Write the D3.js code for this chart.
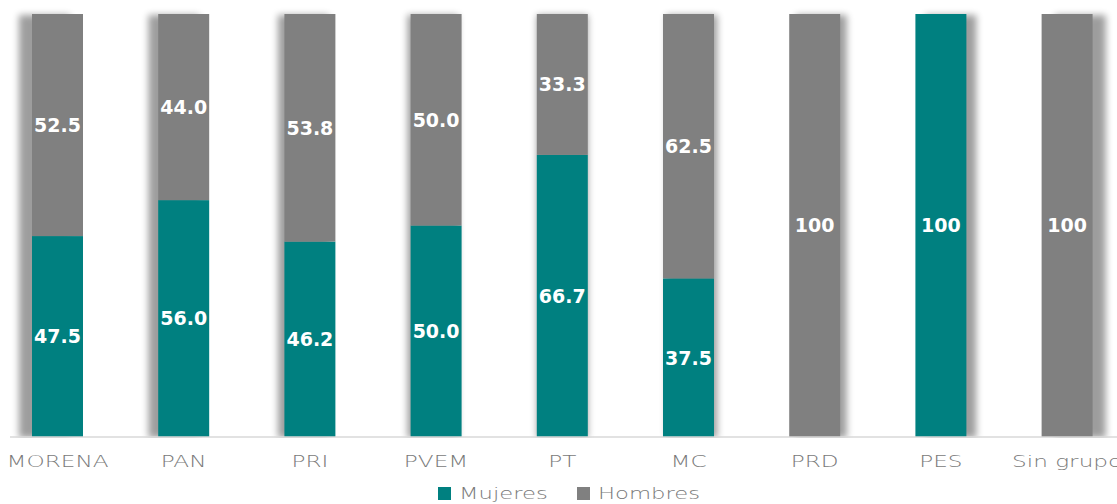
<!DOCTYPE html>
<html>
<head>
<meta charset="utf-8">
<script src="https://cdn.jsdelivr.net/npm/d3@7"></script>
<style>
  body { margin: 0; background: #fff; }
  svg { display: block; }
</style>
</head>
<body>
<script>
var categories = ["MORENA", "PAN", "PRI", "PVEM", "PT", "MC", "PRD", "PES", "Sin grupo"];
var mujeres = [47.5, 56.0, 46.2, 50.0, 66.7, 37.5, 0, 100, 0];
var hombres = [52.5, 44.0, 53.8, 50.0, 33.3, 62.5, 100, 0, 100];
var series = ["Mujeres", "Hombres"];
var colors = ["#008080", "#808080"];

var W = 1117, H = 504;
var svg = d3.select("body").append("svg")
  .attr("width", W)
  .attr("height", H);

var x = d3.scaleBand()
  .domain(categories)
  .range([-5.6, 1130.2])
  .paddingInner(0.596)
  .paddingOuter(0.298);

var y = d3.scaleLinear()
  .domain([0, 100])
  .range([437, 14]);

var mid = 560;
var defs = svg.append("defs");
defs.append("filter")
  .attr("id", "blur")
  .attr("x", "-100%").attr("y", "-10%")
  .attr("width", "300%").attr("height", "120%")
  .append("feGaussianBlur")
  .attr("stdDeviation", 3.5);

// shadows behind bars, pushed away from the middle
svg.append("g").selectAll("rect")
  .data(categories)
  .enter()
  .append("rect")
  .attr("x", function(d) { return x(d) + (x(d) + x.bandwidth() / 2 - mid) * 0.026; })
  .attr("y", y(100) + 1)
  .attr("width", x.bandwidth())
  .attr("height", y(0) - y(100))
  .attr("fill", "#000")
  .attr("opacity", 0.38)
  .attr("filter", "url(#blur)");

// white strip below the baseline so shadows stop there
svg.append("rect")
  .attr("x", 0).attr("y", 438)
  .attr("width", W).attr("height", 20)
  .attr("fill", "#fff");

var rows = categories.map(function(c, i) {
  return { cat: c, Mujeres: mujeres[i], Hombres: hombres[i] };
});
var stacked = d3.stack().keys(series)(rows);

svg.append("g").selectAll("g")
  .data(stacked)
  .enter()
  .append("g")
  .attr("fill", function(d, i) { return colors[i]; })
  .selectAll("rect")
  .data(function(d) { return d; })
  .enter()
  .append("rect")
  .attr("x", function(d) { return x(d.data.cat); })
  .attr("y", function(d) { return y(d[1]); })
  .attr("width", x.bandwidth())
  .attr("height", function(d) { return y(d[0]) - y(d[1]); });

// value labels
var labels = [];
stacked.forEach(function(s) {
  s.forEach(function(d) {
    var v = d[1] - d[0];
    if (v > 0) labels.push({ cat: d.data.cat, v: v, mid: (d[0] + d[1]) / 2 });
  });
});

svg.append("g").selectAll("text")
  .data(labels)
  .enter()
  .append("text")
  .attr("x", function(d) { return x(d.cat) + x.bandwidth() / 2; })
  .attr("y", function(d) { return y(d.mid); })
  .attr("dy", "0.36em")
  .attr("text-anchor", "middle")
  .attr("font-family", "DejaVu Sans, sans-serif")
  .attr("font-weight", "bold")
  .attr("font-size", 19)
  .attr("fill", "#fff")
  .text(function(d) { return d.v === 100 ? "100" : d3.format(".1f")(d.v); });

// axis
var axis = svg.append("g")
  .attr("transform", "translate(0,437)")
  .call(d3.axisBottom(x).tickSize(0).tickPadding(0));
axis.select(".domain").remove();
axis.append("line")
  .attr("x1", 10).attr("x2", W)
  .attr("stroke", "#d9d9d9")
  .attr("stroke-width", 1.5);
axis.selectAll(".tick text")
  .attr("y", 30)
  .attr("dy", 0)
  .attr("transform", "scale(1.45,1)")
  .attr("font-family", "DejaVu Sans, sans-serif")
  .attr("font-weight", 200)
  .attr("font-size", 16)
  .attr("fill", "#7a7a7a");

// legend
var legend = svg.append("g").attr("transform", "translate(437,493)");
var legX = [0, 139];
series.forEach(function(s, i) {
  var g = legend.append("g").attr("transform", "translate(" + legX[i] + ",0)");
  g.append("rect")
    .attr("x", 1).attr("y", -6)
    .attr("width", 13).attr("height", 13)
    .attr("fill", colors[i]);
  g.append("text")
    .attr("transform", "translate(22,0) scale(1.42,1)")
    .attr("dy", "0.36em")
    .attr("font-family", "DejaVu Sans, sans-serif")
    .attr("font-weight", 200)
    .attr("font-size", 16)
    .attr("fill", "#7a7a7a")
    .text(s);
});
</script>
</body>
</html>
